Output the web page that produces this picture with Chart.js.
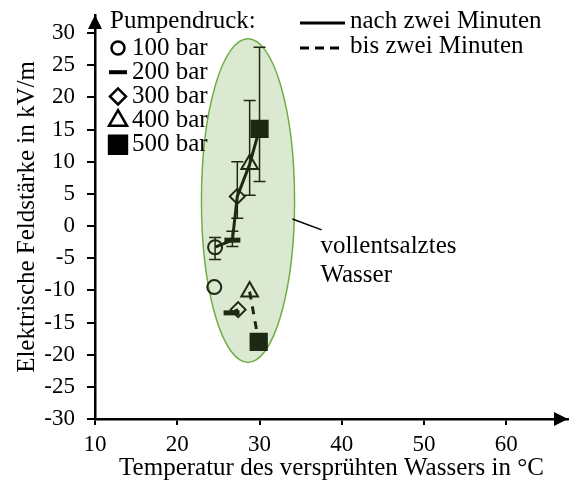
<!DOCTYPE html>
<html>
<head>
<meta charset="utf-8">
<script src="https://cdn.jsdelivr.net/npm/chart.js@4.4.1/dist/chart.umd.min.js"></script>
<style>
  html, body { margin: 0; padding: 0; background: #fff; }
  canvas { display: block; }
</style>
</head>
<body>
<canvas id="chart" width="569" height="486"></canvas>
<script>
const pressureLabels = ['100 bar', '200 bar', '300 bar', '400 bar', '500 bar'];

// nach zwei Minuten (with min/max bars)
const tempAfter = [24.6, 26.7, 27.3, 28.8, 30.0];
const fieldAfter = [-3.3, -2.2, 4.6, 9.6, 15.1];
const fieldAfterLow = [-5.2, -3.2, 1.2, 4.8, 6.9];
const fieldAfterHigh = [-1.8, -0.8, 10.0, 19.5, 27.8];

// bis zwei Minuten
const tempUntil = [24.5, 26.6, 27.4, 28.8, 29.9];
const fieldUntil = [-9.5, -13.5, -13.0, -10.2, -18.0];
const untilJoined = [false, true, false, true]; // which neighbouring points are linked

const xTicks = [10, 20, 30, 40, 50, 60];
const yTicks = [-30, -25, -20, -15, -10, -5, 0, 5, 10, 15, 20, 25, 30];

// marked region "vollentsalztes Wasser" (centre and half axes in data units)
const region = { x: 28.6, y: 3.95, rx: 5.66, ry: 25.15 };
const regionLabel = ['vollentsalztes', 'Wasser'];

const DARK = '#1e2913';
const FONT = 'Liberation Serif';
const TEXT_SIZE = 25;

const markerStyles = ['circle', 'line', 'rectRot', 'triangle', 'rect'];
const markerRadius = [7, 8, 7.5, 9.6, 11.5];
const markerBorder = [2, 5, 2, 2, 2];
const markerFill = ['rgba(0,0,0,0)', DARK, 'rgba(0,0,0,0)', 'rgba(0,0,0,0)', DARK];

const toPoints = (xs, ys) => xs.map((x, i) => ({ x: x, y: ys[i] }));

const overlay = {
  id: 'overlay',
  beforeDatasetsDraw(chart) {
    const { ctx, scales: { x, y } } = chart;
    // ellipse
    const cx = x.getPixelForValue(region.x);
    const cy = y.getPixelForValue(region.y);
    const rx = x.getPixelForValue(region.x + region.rx) - cx;
    const ry = cy - y.getPixelForValue(region.y + region.ry);
    ctx.save();
    ctx.beginPath();
    ctx.ellipse(cx, cy, rx, ry, 0, 0, Math.PI * 2);
    ctx.fillStyle = '#dce9d2';
    ctx.fill();
    ctx.lineWidth = 1.5;
    ctx.strokeStyle = '#70ad47';
    ctx.stroke();

    // min/max bars
    ctx.strokeStyle = DARK;
    ctx.lineWidth = 1.5;
    tempAfter.forEach((t, i) => {
      const px = x.getPixelForValue(t);
      const lo = y.getPixelForValue(fieldAfterLow[i]);
      const hi = y.getPixelForValue(fieldAfterHigh[i]);
      ctx.beginPath();
      ctx.moveTo(px, lo); ctx.lineTo(px, hi);
      ctx.moveTo(px - 6, lo); ctx.lineTo(px + 6, lo);
      ctx.moveTo(px - 6, hi); ctx.lineTo(px + 6, hi);
      ctx.stroke();
    });
    ctx.restore();
  },
  afterDraw(chart) {
    const { ctx, chartArea: area, scales: { x, y } } = chart;
    ctx.save();
    // axis arrows
    ctx.fillStyle = '#000';
    ctx.beginPath();
    ctx.moveTo(area.left, area.top);
    ctx.lineTo(area.left - 7, area.top + 14);
    ctx.lineTo(area.left + 7, area.top + 14);
    ctx.closePath();
    ctx.fill();
    ctx.beginPath();
    ctx.moveTo(area.right, area.bottom);
    ctx.lineTo(area.right - 14, area.bottom - 7);
    ctx.lineTo(area.right - 14, area.bottom + 7);
    ctx.closePath();
    ctx.fill();

    // region label with leader line
    const lx = x.getPixelForValue(37.4);
    const ly = y.getPixelForValue(-4.2);
    ctx.strokeStyle = '#000';
    ctx.lineWidth = 1.5;
    ctx.beginPath();
    ctx.moveTo(x.getPixelForValue(34.0), y.getPixelForValue(1.1));
    ctx.lineTo(x.getPixelForValue(37.55), y.getPixelForValue(-0.6));
    ctx.stroke();
    ctx.font = TEXT_SIZE + 'px "' + FONT + '"';
    ctx.textBaseline = 'alphabetic';
    ctx.textAlign = 'left';
    ctx.fillStyle = '#000';
    regionLabel.forEach((s, i) => ctx.fillText(s, lx, ly + i * 29));

    // legend: pump pressure markers
    ctx.textBaseline = 'middle';
    ctx.fillText('Pumpendruck:', 110, 21);
    const legendRadius = [6.5, 9, 8, 10.4, 13];
    const legendBorder = [2.5, 4, 2.5, 2.5, 2];
    pressureLabels.forEach((label, i) => {
      const my = 48 + i * 24.2;
      ctx.fillStyle = i === 1 || i === 4 ? '#000' : 'rgba(0,0,0,0)';
      ctx.strokeStyle = '#000';
      ctx.lineWidth = legendBorder[i];
      Chart.helpers.drawPoint(ctx, {
        pointStyle: markerStyles[i], radius: legendRadius[i], borderWidth: legendBorder[i], rotation: 0
      }, 118, my);
      ctx.fillStyle = '#000';
      ctx.fillText(label, 132, my);
    });

    // legend: line styles
    ctx.strokeStyle = '#000';
    ctx.lineWidth = 3;
    ctx.beginPath();
    ctx.moveTo(300, 23); ctx.lineTo(345, 23);
    ctx.stroke();
    ctx.setLineDash([9, 6]);
    ctx.beginPath();
    ctx.moveTo(300, 48); ctx.lineTo(345, 48);
    ctx.stroke();
    ctx.setLineDash([]);
    ctx.fillText('nach zwei Minuten', 350, 21);
    ctx.fillText('bis zwei Minuten', 350, 46);
    ctx.restore();
  }
};

new Chart(document.getElementById('chart'), {
  type: 'scatter',
  data: {
    datasets: [
      {
        label: 'nach zwei Minuten',
        data: toPoints(tempAfter, fieldAfter),
        showLine: true,
        borderColor: DARK,
        borderWidth: 3,
        pointStyle: markerStyles,
        pointRadius: markerRadius,
        pointBorderWidth: markerBorder,
        pointBackgroundColor: markerFill,
        pointBorderColor: DARK
      },
      {
        label: 'bis zwei Minuten',
        data: toPoints(tempUntil, fieldUntil),
        showLine: true,
        borderColor: DARK,
        borderWidth: 3,
        borderDash: [8, 7],
        segment: {
          borderColor: (c) => untilJoined[c.p0DataIndex] ? DARK : 'rgba(0,0,0,0)'
        },
        pointStyle: markerStyles,
        pointRadius: markerRadius,
        pointBorderWidth: markerBorder,
        pointBackgroundColor: markerFill,
        pointBorderColor: DARK
      }
    ]
  },
  options: {
    responsive: false,
    animation: false,
    layout: { autoPadding: false, padding: { top: 15, right: 1, left: 0, bottom: 0 } },
    plugins: {
      legend: { display: false },
      tooltip: { enabled: false }
    },
    scales: {
      x: {
        type: 'linear',
        min: 10,
        max: 67.5,
        afterBuildTicks: (scale) => { scale.ticks = xTicks.map((v) => ({ value: v })); },
        afterFit: (scale) => { scale.height = 67; scale.paddingLeft = 0; scale.paddingRight = 0; },
        grid: { display: true, drawOnChartArea: false, drawTicks: true, tickLength: 6, color: '#000', lineWidth: 2 },
        border: { display: true, color: '#000', width: 2.5 },
        ticks: { color: '#000', padding: 6, maxRotation: 0, font: { family: FONT, size: 23 } },
        title: {
          display: true,
          text: 'Temperatur des versprühten Wassers in °C',
          color: '#000',
          padding: { top: 0, bottom: 3 },
          font: { family: FONT, size: TEXT_SIZE }
        }
      },
      y: {
        type: 'linear',
        min: -30,
        max: 32.8,
        afterBuildTicks: (scale) => { scale.ticks = yTicks.map((v) => ({ value: v })); },
        afterFit: (scale) => { scale.width = 95; scale.paddingTop = 0; scale.paddingBottom = 0; },
        grid: { display: true, drawOnChartArea: false, drawTicks: true, tickLength: 8, color: '#000', lineWidth: 2 },
        border: { display: true, color: '#000', width: 2.5 },
        ticks: { color: '#000', padding: 12, font: { family: FONT, size: 23 } },
        title: {
          display: true,
          text: 'Elektrische Feldstärke in kV/m',
          color: '#000',
          padding: { top: 12, bottom: 0 },
          font: { family: FONT, size: TEXT_SIZE }
        }
      }
    }
  },
  plugins: [overlay]
});
</script>
</body>
</html>
